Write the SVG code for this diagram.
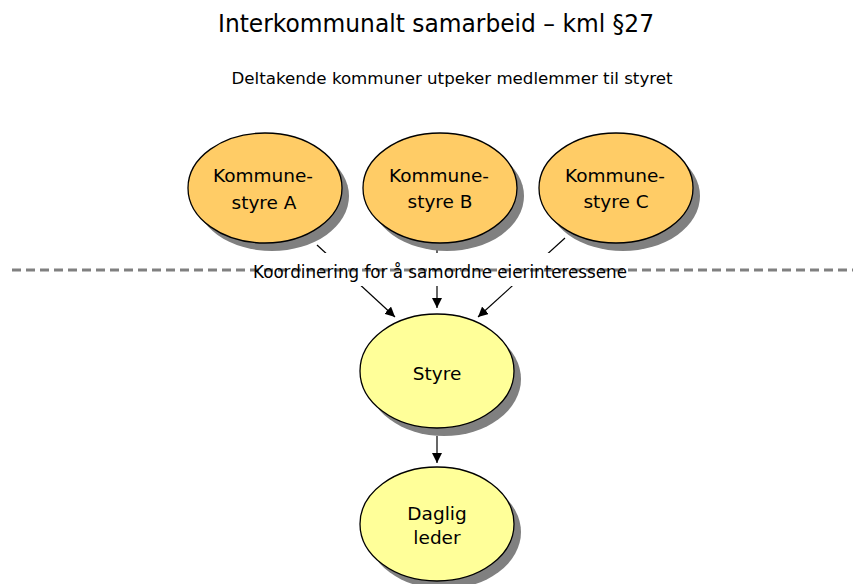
<svg xmlns="http://www.w3.org/2000/svg" width="853" height="584" viewBox="0 0 853 584">
<style>
text{font-family:"DejaVu Sans","Liberation Sans",sans-serif;fill:#000;text-anchor:middle}
.sh{fill:#808080}
.org{fill:#FFCC66;stroke:#000;stroke-width:1.3}
.yel{fill:#FFFF99;stroke:#000;stroke-width:1.3}
.nt{font-size:18.5px}
.ln{stroke:#000;stroke-width:1.2;fill:none}
</style>
<defs>
<marker id="ah" viewBox="0 0 10 10" refX="10" refY="5" markerWidth="10" markerHeight="10" markerUnits="userSpaceOnUse" orient="auto">
<path d="M0,0 L10,5 L0,10 z" fill="#000"/>
</marker>
</defs>
<rect width="853" height="584" fill="#fff"/>
<text x="436" y="32" font-size="24" textLength="436" lengthAdjust="spacingAndGlyphs">Interkommunalt samarbeid – kml §27</text>
<text x="452" y="84" font-size="16" textLength="441" lengthAdjust="spacingAndGlyphs">Deltakende kommuner utpeker medlemmer til styret</text>
<g id="connectors">
<line class="ln" x1="317" y1="245" x2="395" y2="317" marker-end="url(#ah)"/>
<line class="ln" x1="437" y1="244" x2="437" y2="308" marker-end="url(#ah)"/>
<line class="ln" x1="565" y1="238" x2="478" y2="317" marker-end="url(#ah)"/>
<line class="ln" x1="437" y1="436" x2="437" y2="463" marker-end="url(#ah)"/>
</g>
<g id="coord">
<rect x="251" y="253" width="378" height="33" fill="#fff"/>
<line x1="12" y1="270" x2="853" y2="270" stroke="#808080" stroke-width="3" stroke-dasharray="9 5"/>
<text x="440" y="278" font-size="17" textLength="374" lengthAdjust="spacingAndGlyphs">Koordinering for å samordne eierinteressene</text>
</g>
<g id="kA">
<ellipse class="sh" cx="272" cy="196" rx="77" ry="55"/>
<ellipse class="org" cx="265" cy="188" rx="77" ry="55"/>
<text class="nt" x="263" y="182" textLength="100" lengthAdjust="spacingAndGlyphs">Kommune-</text>
<text class="nt" x="264" y="209">styre A</text>
</g>
<g id="kB">
<ellipse class="sh" cx="447" cy="196" rx="77" ry="55"/>
<ellipse class="org" cx="440" cy="188" rx="77" ry="55"/>
<text class="nt" x="439" y="182" textLength="100" lengthAdjust="spacingAndGlyphs">Kommune-</text>
<text class="nt" x="440" y="208">styre B</text>
</g>
<g id="kC">
<ellipse class="sh" cx="623" cy="196" rx="77" ry="55"/>
<ellipse class="org" cx="616" cy="188" rx="77" ry="55"/>
<text class="nt" x="615" y="182" textLength="100" lengthAdjust="spacingAndGlyphs">Kommune-</text>
<text class="nt" x="616" y="208">styre C</text>
</g>
<g id="styre">
<ellipse class="sh" cx="444" cy="379" rx="77" ry="57"/>
<ellipse class="yel" cx="437" cy="371" rx="77" ry="57"/>
<text class="nt" x="437" y="380">Styre</text>
</g>
<g id="daglig">
<ellipse class="sh" cx="444" cy="532" rx="77" ry="57"/>
<ellipse class="yel" cx="437" cy="524" rx="77" ry="57"/>
<text class="nt" x="437" y="520">Daglig</text>
<text class="nt" x="437" y="544">leder</text>
</g>
</svg>
